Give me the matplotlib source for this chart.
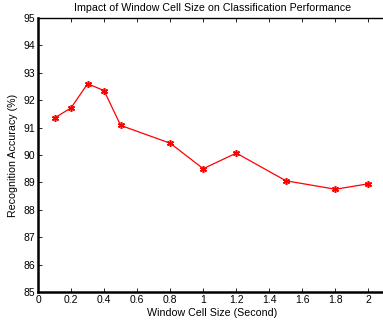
import numpy as np
import matplotlib
matplotlib.use('Agg')
from matplotlib import pyplot as plt

plt.rcParams['font.family'] = ['Liberation Sans', 'DejaVu Sans']

# window cell size (seconds) and recognition accuracy (%)
cell_size = [0.1, 0.2, 0.3, 0.4, 0.5, 0.8, 1.0, 1.2, 1.5, 1.8, 2.0]
accuracy = [91.35, 91.72, 92.6, 92.35, 91.08, 90.43, 89.5, 90.07, 89.06, 88.75, 88.95]

xticks = [0, 0.2, 0.4, 0.6, 0.8, 1, 1.2, 1.4, 1.6, 1.8, 2]
xticklabels = ['0', '0.2', '0.4', '0.6', '0.8', '1', '1.2', '1.4', '1.6', '1.8', '2']
yticks = list(range(85, 96))

fig = plt.figure(figsize=(3.83, 3.25), dpi=100)
ax = fig.add_axes([38/383, 33/325, 349/383, 274/325])

ax.plot(cell_size, accuracy, color='red', linewidth=0.9,
        marker=(6, 2, 0), markersize=5, markeredgewidth=1.1)

ax.set_xlim(0, 2.112)
ax.set_ylim(85, 95)
ax.set_xticks(xticks)
ax.set_xticklabels(xticklabels)
ax.set_yticks(yticks)
ax.tick_params(direction='in', top=True, right=True, labelsize=7.5,
               length=3, width=0.6, pad=2)

for side in ['left', 'bottom']:
    ax.spines[side].set_linewidth(1.8)
for side in ['top', 'right']:
    ax.spines[side].set_linewidth(1.0)

ax.set_title('Impact of Window Cell Size on Classification Performance',
             fontsize=7.7, pad=5)
ax.set_xlabel('Window Cell Size (Second)', fontsize=7.7, labelpad=2)
ax.set_ylabel('Recognition Accuracy (%)', fontsize=7.7, labelpad=4)

fig.savefig('out.png', dpi=100)
